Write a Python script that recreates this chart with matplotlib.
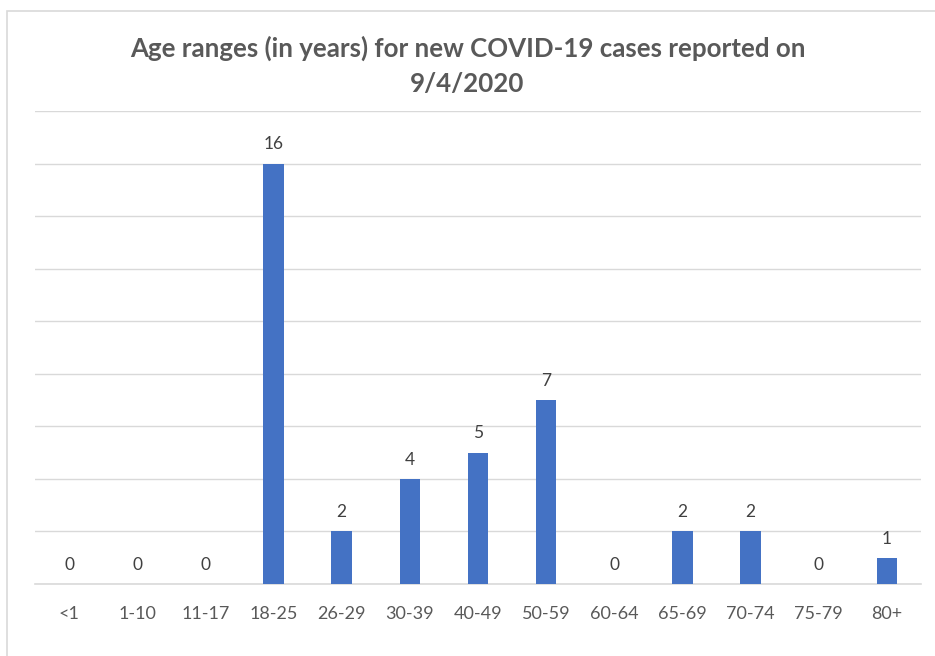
import matplotlib
matplotlib.use("Agg")
import matplotlib.pyplot as plt
from matplotlib.patches import Rectangle

categories = ["<1", "1-10", "11-17", "18-25", "26-29", "30-39", "40-49",
              "50-59", "60-64", "65-69", "70-74", "75-79", "80+"]
cases = [0, 0, 0, 16, 2, 4, 5, 7, 0, 2, 2, 0, 1]
title = "Age ranges (in years) for new COVID-19 cases reported on\n9/4/2020"

plt.rcParams['font.family'] = ['Lato', 'DejaVu Sans']

fig = plt.figure(figsize=(9.35, 6.56), dpi=100)
fig.patch.set_facecolor("white")
# chart border
fig.patches.append(Rectangle((7/935, -0.05), 1.0, (656-11)/656 + 0.05,
                             transform=fig.transFigure, fill=False,
                             edgecolor="#d9d9d9", linewidth=1.2))

ax = fig.add_axes([35/935, (656-584)/656, (921-35)/935, (584-111)/656])
x = range(len(categories))
bars = ax.bar(x, cases, width=0.3, color="#4472c4", zorder=3)
ax.set_xlim(-0.5, len(categories) - 0.5)
ax.set_ylim(0, 18)
ax.set_yticks(range(0, 19, 2))
ax.yaxis.grid(True, color="#d9d9d9", linewidth=1.0, zorder=0)
ax.tick_params(axis="y", left=False, labelleft=False)
ax.set_xticks(list(x))
ax.set_xticklabels(categories, fontsize=13, color="#595959")
ax.tick_params(axis="x", length=0, pad=16)
for s in ["top", "right", "left"]:
    ax.spines[s].set_visible(False)
ax.spines["bottom"].set_color("#d9d9d9")
ax.spines["bottom"].set_linewidth(1.2)

for xi, v in zip(x, cases):
    ax.annotate(str(v), (xi, v), xytext=(0, 8), textcoords="offset points",
                ha="center", va="bottom", fontsize=12.5, color="#404040")

fig.text(0.5, (656-66)/656, title, ha="center", va="center", fontsize=18.6,
         fontweight="bold", color="#595959", linespacing=1.55)

fig.savefig("out.png", dpi=100)
